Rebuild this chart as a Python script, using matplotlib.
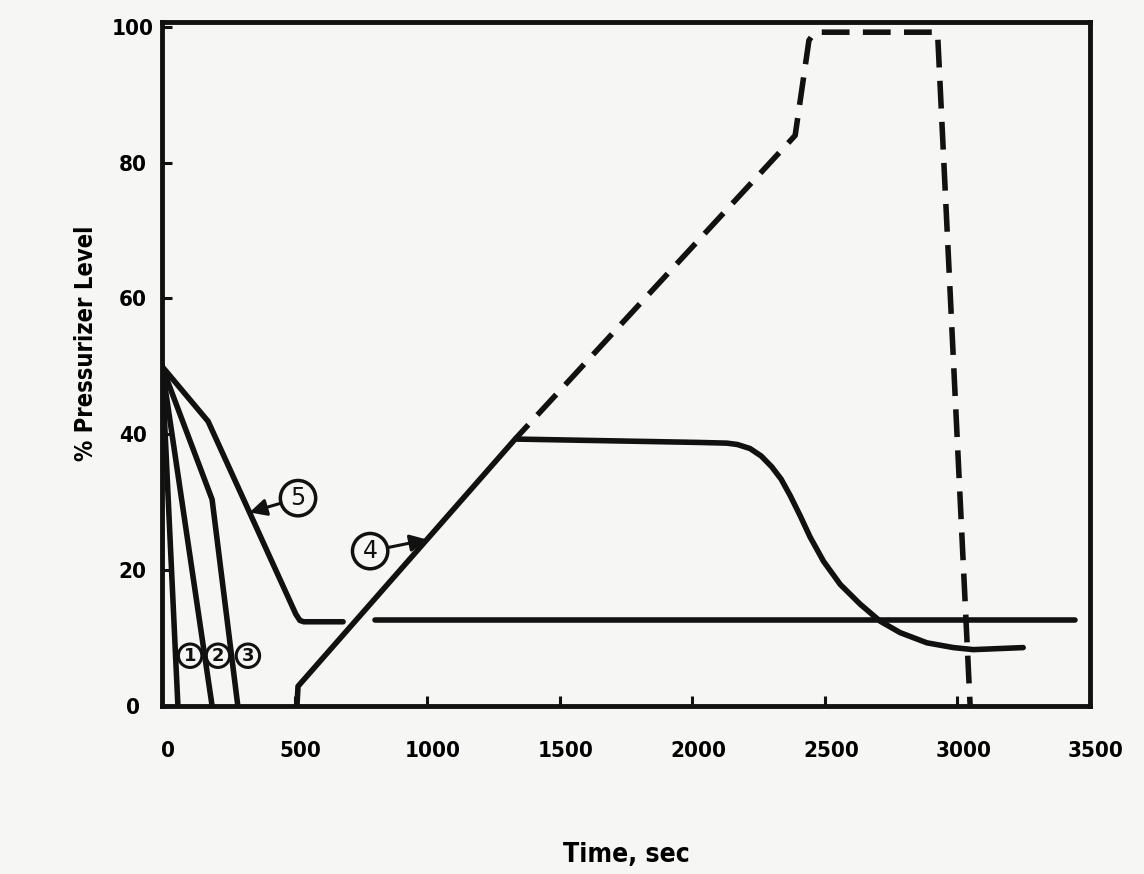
import matplotlib
matplotlib.use("Agg")
import matplotlib.pyplot as plt
import matplotlib.transforms as mtransforms
from matplotlib.font_manager import FontProperties

# ---- data ----
t_curve1 = [0, 60]
v_curve1 = [50, 0]

t_curve2 = [0, 189]
v_curve2 = [50, 0]

t_curve3 = [0, 189, 286]
v_curve3 = [50, 30.4, 0]

t_curve5a = [0, 174, 505, 520, 535, 683]
v_curve5a = [50, 41.9, 13.5, 12.6, 12.4, 12.4]
t_curve5b = [803, 3444]
v_curve5b = [12.6, 12.6]

t_curve4 = [509, 513, 1332, 2029, 2130, 2170, 2218, 2260, 2300, 2335, 2369, 2407, 2444, 2495,
            2558, 2633, 2708, 2784, 2885, 2985, 3060, 3248]
v_curve4 = [0, 2.9, 39.3, 38.8, 38.7, 38.5, 37.9, 36.8, 35.2, 33.4, 31.0, 28.0, 24.9, 21.3,
            17.9, 15.0, 12.5, 10.8, 9.3, 8.6, 8.3, 8.6]

t_curve4_dash = [1332, 2388, 2440, 2462, 2925, 3048]
v_curve4_dash = [39.3, 84.0, 98.0, 99.2, 99.2, 0]

x_ticks = [0, 500, 1000, 1500, 2000, 2500, 3000, 3500]
x_ticklabels = ["0", "500", "1000", "1500", "2000", "2500", "3000", "3500"]
y_ticks = [0, 20, 40, 60, 80, 100]
y_ticklabels = ["0", "20", "40", "60", "80", "100"]

bg = "#f6f6f4"
k = "#111111"
fam = "DejaVu Sans"

fig = plt.figure(figsize=(11.44, 8.74), dpi=100, facecolor=bg)
ax = fig.add_axes([162/1144, 1-706/874, (1090-162)/1144, (706-22)/874])
ax.set_facecolor(bg)

lw = 4.0
ax.plot(t_curve1, v_curve1, color=k, lw=lw, solid_joinstyle="round")
ax.plot(t_curve2, v_curve2, color=k, lw=lw, solid_joinstyle="round")
ax.plot(t_curve3, v_curve3, color=k, lw=lw, solid_joinstyle="round")
ax.plot(t_curve5a, v_curve5a, color=k, lw=lw, solid_joinstyle="round", solid_capstyle="round")
ax.plot(t_curve5b, v_curve5b, color=k, lw=lw, solid_capstyle="round")
ax.plot(t_curve4, v_curve4, color=k, lw=lw, solid_joinstyle="round", solid_capstyle="round")
ax.plot(t_curve4_dash, v_curve4_dash, color=k, lw=lw, linestyle=(1.5, (5.0, 2.4)),
        solid_joinstyle="round")

ax.set_xlim(0, 3500)
ax.set_ylim(0, 100.7)

for s in ax.spines.values():
    s.set_linewidth(3.5)
    s.set_color(k)

ax.set_xticks(x_ticks)
ax.set_xticklabels(x_ticklabels)
ax.set_yticks(y_ticks)
ax.set_yticklabels(y_ticklabels)
tick_font = dict(family=fam, weight="bold", stretch="condensed", size=16)
ax.tick_params(axis="both", direction="in", length=7, width=2.2, color=k)
ax.tick_params(axis="x", pad=25)
ax.tick_params(axis="y", pad=21)
for lab in ax.get_xticklabels():
    lab.set_fontproperties(FontProperties(**tick_font))
    lab.set_transform(lab.get_transform() + mtransforms.ScaledTranslation(6/100, 0, fig.dpi_scale_trans))
for lab in ax.get_yticklabels():
    lab.set_fontproperties(FontProperties(**tick_font))
    lab.set_horizontalalignment("center")

ax.set_xlabel("Time, sec", fontproperties=FontProperties(family=fam, weight="bold",
                                                          stretch="condensed", size=19))
ax.xaxis.set_label_coords(0.5, -0.218)
ax.xaxis.label.set_verticalalignment("center")
ax.set_ylabel("% Pressurizer Level", fontproperties=FontProperties(family=fam, weight="bold",
                                                                    stretch="condensed", size=17))
ax.yaxis.set_label_coords(-(162-86)/928, 0.53)
ax.yaxis.label.set_verticalalignment("center")

circ = dict(boxstyle="circle,pad=0.15", fc="none", ec=k, lw=2.2)
for txt, tx, ty in [("1", 106, 7.4), ("2", 211, 7.4), ("3", 324, 7.4)]:
    ax.text(tx, ty, txt, fontsize=13, fontweight="bold", ha="center", va="center", bbox=circ, color=k)

circ_big = dict(boxstyle="circle,pad=0.24", fc="none", ec=k, lw=2.5)
ax.annotate("5", xy=(330, 28.5), xytext=(513, 30.6), fontsize=17, ha="center", va="center",
            bbox=circ_big, color=k,
            arrowprops=dict(arrowstyle="-|>,head_length=0.6,head_width=0.3", color=k, lw=2.2,
                            shrinkA=0, shrinkB=0))
ax.annotate("4", xy=(1000, 24.5), xytext=(785, 22.8), fontsize=17, ha="center", va="center",
            bbox=circ_big, color=k,
            arrowprops=dict(arrowstyle="-|>,head_length=0.6,head_width=0.3", color=k, lw=2.2,
                            shrinkA=0, shrinkB=0))

fig.savefig("out.png", dpi=100, facecolor=bg)
